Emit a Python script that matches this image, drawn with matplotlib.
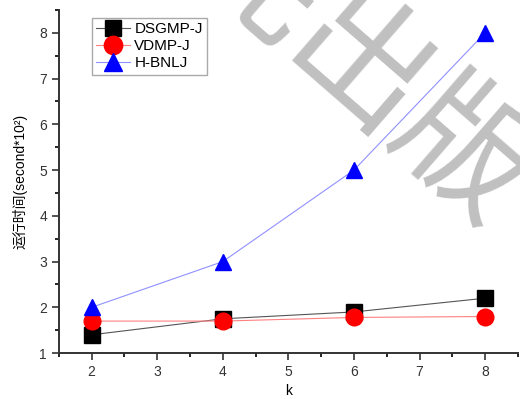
import matplotlib
matplotlib.use("Agg")
import matplotlib.pyplot as plt
from matplotlib.ticker import MultipleLocator

plt.rcParams['font.family'] = ['Liberation Sans', 'Noto Sans CJK SC', 'DejaVu Sans']

k = [2, 4, 6, 8]
dsgmp = [1.4, 1.75, 1.9, 2.2]
vdmp = [1.7, 1.7, 1.78, 1.8]
hbnlj = [2.0, 3.0, 5.0, 8.0]

fig = plt.figure(figsize=(5.2, 3.99), dpi=100)
ax = fig.add_axes([0.113, 0.115, 0.883, 0.86])

# watermark behind everything
fig.text(0.592, 0.94, '优先出版', fontsize=98, color='#c0c0c0', rotation=-41,
         ha='center', va='center', family=['Noto Sans CJK SC'], fontweight='light',
         zorder=-5)

ax.plot(k, dsgmp, color='#555555', lw=0.8, marker='s', ms=11, mfc='black', mec='black', label='DSGMP-J')
ax.plot(k, vdmp, color='#ff8080', lw=0.8, marker='o', ms=12, mfc='red', mec='red', label='VDMP-J')
ax.plot(k, hbnlj, color='#9090ff', lw=0.8, marker='^', ms=12, mfc='blue', mec='blue', label='H-BNLJ')

ax.set_xlim(1.5, 8.5)
ax.set_ylim(1, 8.5)
ax.xaxis.set_major_locator(MultipleLocator(1))
ax.xaxis.set_minor_locator(MultipleLocator(0.5))
ax.yaxis.set_major_locator(MultipleLocator(1))
ax.yaxis.set_minor_locator(MultipleLocator(0.5))
ax.tick_params(which='major', length=5, width=1.2, labelsize=10, colors='#333333')
ax.tick_params(which='minor', length=3, width=1.2)
ax.spines['top'].set_visible(False)
ax.spines['right'].set_visible(False)
for s in ['left', 'bottom']:
    ax.spines[s].set_linewidth(1.4)
    ax.spines[s].set_color('#333333')
ax.patch.set_alpha(0)

ax.set_xlabel('k', fontsize=10, labelpad=4)
ax.set_ylabel('运行时间(second*10²)', fontsize=10, labelpad=8)

leg = ax.legend(loc='upper left', bbox_to_anchor=(0.055, 1.0), fontsize=11, fancybox=False,
                edgecolor='#aaaaaa', framealpha=1, handlelength=2.2, borderpad=0.3,
                labelspacing=0.2, handletextpad=0.3, markerscale=1.1)
leg.get_frame().set_linewidth(1.0)

fig.savefig('out.png', dpi=100)
